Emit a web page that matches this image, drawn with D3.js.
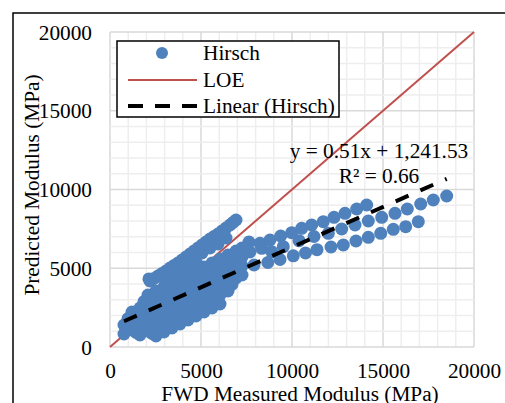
<!DOCTYPE html>
<html>
<head>
<meta charset="utf-8">
<script src="https://cdn.jsdelivr.net/npm/d3@7"></script>
<style>
body { margin: 0; background: #fff; }
text { font-family: "Liberation Serif", "Times New Roman", serif; fill: #000; }
</style>
</head>
<body>
<svg id="chart" width="505" height="403"></svg>
<script>
// Hirsch predictions vs FWD measured modulus (MPa)
var bodyPoints = [
    [2967,4381],[3407,4635],[3846,4889],[4286,5143],[4725,5397],[2140,4320],
    [2088,3302],[2527,3556],[2967,3810],[3407,4063],[3846,4317],[4286,4571],[4725,4825],
    [5165,5079],[5604,5333],[6044,5587],[6484,5841],[6923,6095],[7253,6286],
    [1868,2889],[2308,3143],[2747,3397],[3187,3651],[3626,3905],[4066,4159],[4505,4413],
    [4945,4667],[5385,4921],[5824,5175],[6264,5429],[6703,5683],[7143,5937],
    [1209,2222],[1648,2476],[2088,2730],[2527,2984],[2967,3238],[3407,3492],[3846,3746],
    [4286,4000],[4725,4254],[5165,4508],[5604,4762],[6044,5016],[6484,5270],[6923,5524],[7253,5714],
    [989,1810],[1429,2063],[1868,2317],[2308,2571],[2747,2825],[3187,3079],[3626,3333],[4066,3587],
    [4505,3841],[4945,4095],[5385,4349],[5824,4603],[6264,4857],[6703,5111],[7143,5365],
    [769,1397],[1209,1651],[1648,1905],[2088,2159],[2527,2413],[2967,2667],[3407,2921],[3846,3175],
    [4286,3429],[4725,3683],[5165,3937],[5604,4190],[6044,4444],[6484,4698],[6923,4952],[7253,5143],
    [989,1238],[1429,1492],[1868,1746],[2308,2000],[2747,2254],[3187,2508],[3626,2762],[4066,3016],
    [4505,3270],[4945,3524],[5385,3778],[5824,4032],[6264,4286],[6703,4540],
    [769,825],[1209,1079],[1648,1333],[2088,1587],[2527,1841],[2967,2095],[3407,2349],[3846,2603],
    [4286,2857],[4725,3111],[5165,3365],[5604,3619],[6044,3873],[6484,4127],[6923,4381],[7253,4571],
    [1429,921],[1868,1175],[2308,1429],[2747,1683],[3187,1937],[3626,2190],[4066,2444],[4505,2698],
    [4945,2952],[5385,3206],[5824,3460],[6264,3714],[6703,3968],
    [1648,762],[2088,1016],[2527,1270],[2967,1524],[3407,1778],[3846,2032],[4286,2286],[4725,2540],
    [5165,2794],[5604,3048],[6044,3302],[6484,3556],
    [2308,857],[2747,1111],[3187,1365],[3626,1619],[4066,1873],[4505,2127],[4945,2381],[5385,2635],[5824,2889],
    [2527,698],[2967,952],[3407,1206],[3846,1460],[4286,1714],[4725,1968],[5165,2222],[5604,2476],[6044,2730]
];
var topStreak = [
    [2198,4190],[2418,4349],[2637,4508],[2857,4667],[3077,4825],[3297,5016],[3516,5175],[3736,5333],
    [3956,5524],[4176,5714],[4396,5905],[4615,6095],[4835,6286],[5055,6476],[5275,6667],[5495,6857],
    [5714,7016],[5934,7175],[6154,7365],[6374,7556],[6593,7746],[6758,7905],[6923,8063],
    [3297,4762],[3736,5016],[4176,5270],[4615,5587],[5055,5968],[5495,6286],[5934,6540],[6374,6921]
];
var upperTail = [
    [7637,6667],[8242,6584],[8791,6794],[9379,7048],[9984,7257],[10533,7536],
    [11082,7746],[11720,7956],[12308,8235],[12912,8489],[13555,8762],[14104,9016]
];
var middleTail = [
    [7692,6032],[8335,6267],[8885,6051],[9522,6368],[10385,6749],[11209,7016],[11995,7219],
    [12731,7492],[13462,7746],[14193,8000],[14929,8235],[15659,8489],[16335,8762],
    [17072,9079],[17764,9333],[18500,9587]
];
var lowerTail = [
    [7143,5016],[7912,5206],[8670,5365],[9341,5556],[10071,5790],[10742,5968],[11374,6178],
    [12143,6349],[12819,6476],[13516,6730],[14193,6965],[14874,7219],[15566,7473],[16247,7638],[16940,7956]
];
var axisTicks = [0, 5000, 10000, 15000, 20000];
var trendSlope = 0.51;
var trendIntercept = 1241.53;
var legendLabels = ["Hirsch", "LOE", "Linear (Hirsch)"];

var allPoints = bodyPoints.concat(topStreak, upperTail, middleTail, lowerTail);

var svg = d3.select("#chart");
var fontSize = "21.3px";
var serif = "'Liberation Serif', 'Times New Roman', serif";

// outer chart frame
svg.append("rect")
    .attr("x", 13).attr("y", 13)
    .attr("width", 600).attr("height", 500)
    .attr("fill", "none").attr("stroke", "#000").attr("stroke-width", 1.5);

var x = d3.scaleLinear().domain([0, 20000]).range([110, 474]);
var y = d3.scaleLinear().domain([0, 20000]).range([347, 32]);

// minor grid then major grid
var grid = svg.append("g");
x.ticks(20).forEach(function(t) {
    grid.append("line")
        .attr("x1", x(t)).attr("x2", x(t)).attr("y1", y(0)).attr("y2", y(20000))
        .attr("stroke", t % 5000 ? "#eeeeee" : "#d9d9d9").attr("stroke-width", 1.5);
});
y.ticks(20).forEach(function(t) {
    grid.append("line")
        .attr("x1", x(0)).attr("x2", x(20000)).attr("y1", y(t)).attr("y2", y(t))
        .attr("stroke", t % 5000 ? "#eeeeee" : "#d9d9d9").attr("stroke-width", 1.5);
});

// axes (labels only)
var xAxis = svg.append("g")
    .attr("transform", "translate(0," + y(0) + ")")
    .call(d3.axisBottom(x).tickValues(axisTicks).tickSize(0).tickFormat(d3.format("d")))
    .attr("font-family", serif).attr("font-size", fontSize);
xAxis.select(".domain").remove();
xAxis.selectAll(".tick text")
    .attr("y", 30.5).attr("dy", 0);

var yAxis = svg.append("g")
    .attr("transform", "translate(" + x(0) + ",0)")
    .call(d3.axisLeft(y).tickValues(axisTicks).tickSize(0).tickFormat(d3.format("d")))
    .attr("font-family", serif).attr("font-size", fontSize);
yAxis.select(".domain").remove();
yAxis.selectAll(".tick text")
    .attr("x", -18).attr("dy", 0).attr("y", 7);

// axis titles
svg.append("text")
    .attr("x", 300).attr("y", 401)
    .attr("text-anchor", "middle")
    .style("font-size", fontSize)
    .text("FWD Measured Modulus (MPa)");

svg.append("text")
    .attr("transform", "translate(39,185) rotate(-90)")
    .attr("text-anchor", "middle")
    .style("font-size", fontSize)
    .text("Predicted Modulus (MPa)");

// line of equality
svg.append("path")
    .datum([0, 20000])
    .attr("d", d3.line().x(d => x(d)).y(d => y(d)))
    .attr("fill", "none").attr("stroke", "#C0504D").attr("stroke-width", 2);

// scatter
svg.append("g").selectAll("circle")
    .data(allPoints)
    .enter()
    .append("circle")
    .attr("cx", d => x(d[0]))
    .attr("cy", d => y(d[1]))
    .attr("r", 6.5)
    .attr("fill", "#4F81BD");

// linear trend
var xExt = d3.extent(allPoints, d => d[0]);
svg.append("path")
    .datum(xExt)
    .attr("d", d3.line().x(d => x(d)).y(d => y(trendSlope * d + trendIntercept)))
    .attr("fill", "none").attr("stroke", "#000").attr("stroke-width", 4)
    .attr("stroke-dasharray", "14,13");

// equation
svg.append("text")
    .attr("x", 379).attr("y", 158)
    .attr("text-anchor", "middle")
    .style("font-size", fontSize)
    .text("y = 0.51x + 1,241.53");
svg.append("text")
    .attr("x", 379).attr("y", 183)
    .attr("text-anchor", "middle")
    .style("font-size", fontSize)
    .text("R² = 0.66");

// legend
var legend = svg.append("g");
legend.append("rect")
    .attr("x", 117).attr("y", 41)
    .attr("width", 222).attr("height", 76)
    .attr("fill", "#fff").attr("stroke", "#000").attr("stroke-width", 1.5);
legend.append("circle")
    .attr("cx", 162).attr("cy", 53).attr("r", 6).attr("fill", "#4F81BD");
legend.append("line")
    .attr("x1", 128).attr("x2", 197).attr("y1", 80).attr("y2", 80)
    .attr("stroke", "#C0504D").attr("stroke-width", 2);
legend.append("line")
    .attr("x1", 128).attr("x2", 197).attr("y1", 106).attr("y2", 106)
    .attr("stroke", "#000").attr("stroke-width", 4).attr("stroke-dasharray", "15,12");
legendLabels.forEach(function(label, i) {
    legend.append("text")
        .attr("x", 203).attr("y", 60 + i * 26.5)
        .style("font-size", fontSize)
        .text(label);
});
</script>
</body>
</html>
